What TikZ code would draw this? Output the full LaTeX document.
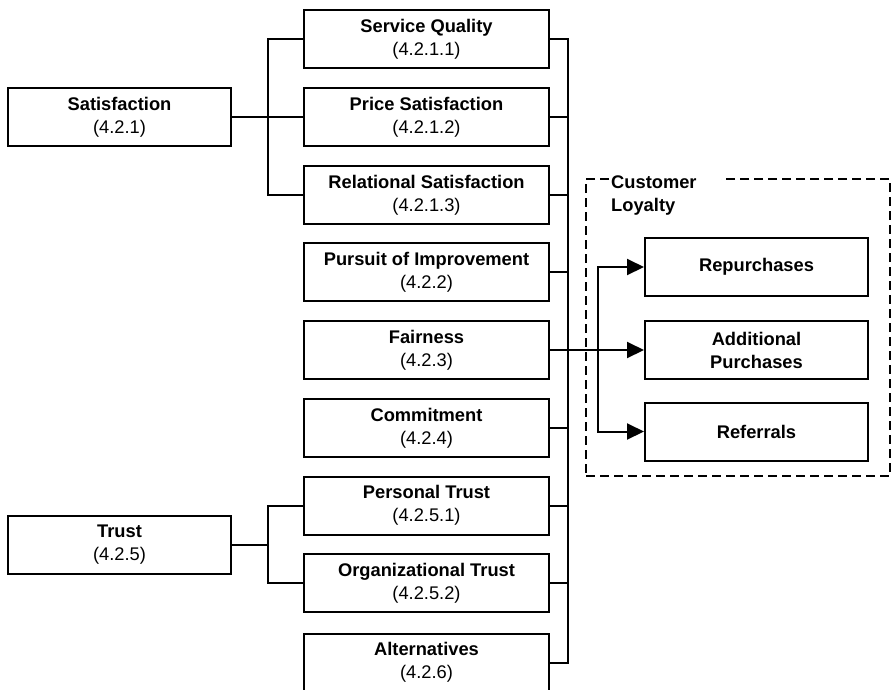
\documentclass[tikz,border=0pt]{standalone}
\usepackage{fontspec}
\setmainfont{Liberation Sans}
\usetikzlibrary{arrows.meta}
\begin{document}
\begin{tikzpicture}[x=1pt,y=-1pt,
  every node/.style={font=\fontsize{18.3}{23}\selectfont},
  box/.style={draw, line width=2pt, align=center, minimum height=58pt, inner sep=0pt},
  midbox/.style={box, minimum width=245pt},
  sidebox/.style={box, minimum width=223pt},
  link/.style={line width=2pt},
  arrowlink/.style={link, -{Triangle[length=17pt,width=16pt]}},
  group/.style={draw, line width=1.6pt, dash pattern=on 9pt off 5pt,
    minimum width=304pt, minimum height=297pt, inner sep=0pt},
  grouplabel/.style={fill=white, align=left, anchor=north west,
    inner xsep=0pt, inner ysep=4pt, text width=110pt,
    font=\fontsize{18.3}{23}\selectfont\bfseries},
]
\useasboundingbox (0,0) rectangle (891,689);

% drivers on the left
\node[sidebox] (sat) at (119.5,117) {\textbf{Satisfaction}\\(4.2.1)};
\node[sidebox] (tr)  at (119.5,544.5) {\textbf{Trust}\\(4.2.5)};

% column of constructs
\node[midbox] (sq) at (426.5,39)  {\textbf{Service Quality}\\(4.2.1.1)};
\node[midbox] (ps) at (426.5,117) {\textbf{Price Satisfaction}\\(4.2.1.2)};
\node[midbox] (rs) at (426.5,195) {\textbf{Relational Satisfaction}\\(4.2.1.3)};
\node[midbox] (pi) at (426.5,272) {\textbf{Pursuit of Improvement}\\(4.2.2)};
\node[midbox] (fa) at (426.5,350) {\textbf{Fairness}\\(4.2.3)};
\node[midbox] (co) at (426.5,428) {\textbf{Commitment}\\(4.2.4)};
\node[midbox] (pt) at (426.5,505.5) {\textbf{Personal Trust}\\(4.2.5.1)};
\node[midbox] (ot) at (426.5,583) {\textbf{Organizational Trust}\\(4.2.5.2)};
\node[midbox] (al) at (426.5,662.5) {\textbf{Alternatives}\\(4.2.6)};

% customer loyalty group
\node[group] (loyalty) at (738,327.5) {};
\node[grouplabel] (loyaltylabel) at (611,172) {Customer\\Loyalty};
\node[sidebox] (rp) at (756.5,267) {\textbf{Repurchases}};
\node[sidebox] (ap) at (756.5,350) {\textbf{Additional}\\\textbf{Purchases}};
\node[sidebox] (rf) at (756.5,431.5) {\textbf{Referrals}};

% junction points
\coordinate (satbus) at (268,117);
\coordinate (trbus)  at (268,544.5);
\coordinate (busTop) at (568,39);
\coordinate (split)  at (598,350);

% brackets from the drivers
\draw[link] (sat.east) -- (ps.west);
\draw[link] (sq.west) -| (satbus) |- (rs.west);
\draw[link] (tr.east) -- (trbus);
\draw[link] (pt.west) -| (trbus) |- (ot.west);

% collecting bus on the right of the column
\draw[link] (sq.east) -- (busTop) |- (al.east);
\foreach \n in {ps,rs,pi,co,pt,ot}
  \draw[link] (\n.east) -- (\n.east -| busTop);

% arrows into customer loyalty
\draw[arrowlink] (fa.east) -- (ap.west);
\draw[arrowlink] (split) |- (rp.west);
\draw[arrowlink] (split) |- (rf.west);
\end{tikzpicture}
\end{document}
